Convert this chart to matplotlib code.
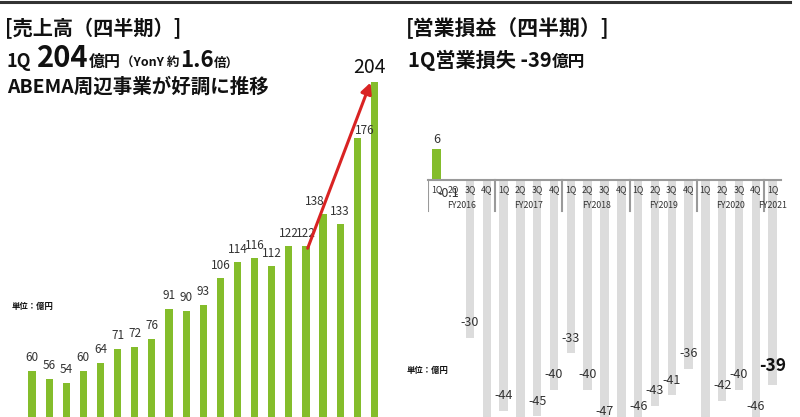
import matplotlib
matplotlib.use("Agg")
import matplotlib.pyplot as plt

plt.rcParams['font.family'] = ['Noto Sans CJK JP', 'DejaVu Sans']

# quarterly sales (oku yen), FY2016 1Q .. FY2021 1Q
sales = [60, 56, 54, 60, 64, 71, 72, 76, 91, 90, 93, 106, 114, 116, 112, 122, 122, 138, 133, 176, 204]

# quarterly operating profit (oku yen)
profit = [6, -0.1, -30, -52, -44, -49, -45, -40, -33, -40, -47, -58, -46, -43, -41, -36, -50, -42, -40, -46, -39]

quarters = ['1Q', '2Q', '3Q', '4Q'] * 5 + ['1Q']
years = ['FY2016', 'FY2017', 'FY2018', 'FY2019', 'FY2020', 'FY2021']

green = '#84bd2b'
gray = '#dcdcdc'
txt = '#333333'
dark = '#111111'

W, H = 800, 417
fig = plt.figure(figsize=(8, 4.17), dpi=100)
renderer = fig.canvas.get_renderer()

def fx(px):
    return px / W

def fy(py):
    return 1 - py / H

def chain(parts, x0, ybase):
    # put text pieces one after another on a common baseline
    xpx = x0
    for s, size, gap in parts:
        t = fig.text(fx(xpx), fy(ybase), s, fontsize=size, fontweight='bold',
                     color=dark, ha='left', va='baseline')
        bb = t.get_window_extent(renderer)
        xpx += bb.width + gap

# thin dark rule at the top of the slide
fig.add_artist(plt.Line2D([0, fx(790)], [fy(1.5), fy(1.5)], color='#333333', lw=2.2))

# ---------------- left: sales ----------------
ax1 = fig.add_axes([fx(23.5), 0, fx(383 - 23.5), 1])
x = list(range(len(sales)))
ax1.bar(x, sales, width=0.42, color=green)
ax1.set_xlim(-0.5, 20.5)
ax1.set_ylim(37, 244.6)
ax1.axis('off')

for i, v in enumerate(sales[:-1]):
    dx = 0
    dy = 6.5
    if i == 17:
        dx = -0.5
    if i == 19:
        dx = 0.45
        dy = 3.5
    ax1.text(i + dx, v + dy, str(v), ha='center', va='center', fontsize=8.5, color=txt)
ax1.text(20 - 0.3, sales[-1] + 7, str(sales[-1]), ha='center', va='center',
         fontsize=14, color=dark)

ax1.annotate('', xy=(19.77, sales[-1] - 0.5), xytext=(16.1, sales[16] - 1),
             arrowprops=dict(arrowstyle='-|>', color='#d92323', lw=2.2,
                             mutation_scale=16, shrinkA=0, shrinkB=0))

fig.text(fx(5), fy(35), '[売上高（四半期）]', fontsize=14.5, fontweight='bold',
         color=dark, ha='left', va='baseline')
chain([('1Q', 13, 5), ('204', 21, 1), ('億円', 11.5, 0), ('（YonY 約', 9, 1),
       ('1.6', 16, 0), ('倍）', 9, 0)], 7, 67)
fig.text(fx(7), fy(93), 'ABEMA周辺事業が好調に推移', fontsize=14, fontweight='bold',
         color=dark, va='baseline')
fig.text(fx(12), fy(307), '単位：億円', fontsize=6, fontweight='bold', color=dark, va='center')

# ---------------- right: operating profit ----------------
ax2 = fig.add_axes([fx(428), 0, fx(353), 1])
xs = list(range(len(profit)))
colors = [green] + [gray] * (len(profit) - 1)
ax2.bar(xs, profit, width=0.5, color=colors, zorder=1)
ax2.set_xlim(-0.5, 20.5)
ax2.set_ylim(-45.1, 34.3)
ax2.axis('off')

ax2.plot([-0.5, 20.5], [0, 0], color='#9a9a9a', lw=1.5, zorder=3, clip_on=False)
for b in [-0.5, 3.5, 7.5, 11.5, 15.5, 19.5]:
    ax2.plot([b, b], [0, -5.8], color='#9a9a9a', lw=1.5, zorder=3)

for i, q in enumerate(quarters):
    ax2.text(i, -1.9, q, ha='center', va='center', fontsize=6.3, color=txt, zorder=4)
for k, y in enumerate(years):
    cx = 4 * k + 1.5 if k < 5 else 20
    ax2.text(cx, -4.8, y, ha='center', va='center', fontsize=6.3, color=txt, zorder=4)

ax2.text(0, profit[0] + 1.7, '6', ha='center', va='center', fontsize=9, color=txt)
ax2.text(0.7, -2.6, '-0.1', ha='center', va='center', fontsize=9, color=txt, zorder=5)
for i, v in enumerate(profit[2:-1], start=2):
    if v + 2.9 < -46.5:
        continue  # label falls below the visible area
    ax2.text(i, v + 2.9, str(v), ha='center', va='center', fontsize=9, color=txt,
             zorder=5, clip_on=True)
ax2.text(20, profit[-1] + 3.6, str(profit[-1]), ha='center', va='center',
         fontsize=12.5, fontweight='bold', color=dark, zorder=5)

fig.text(fx(406), fy(35), '[営業損益（四半期）]', fontsize=15, fontweight='bold',
         color=dark, ha='left', va='baseline')
chain([('1Q営業損失 -39', 14.5, 0), ('億円', 12, 0)], 408, 67)
fig.text(fx(407), fy(370), '単位：億円', fontsize=6, fontweight='bold', color=dark, va='center')

fig.savefig('out.png', dpi=100)
